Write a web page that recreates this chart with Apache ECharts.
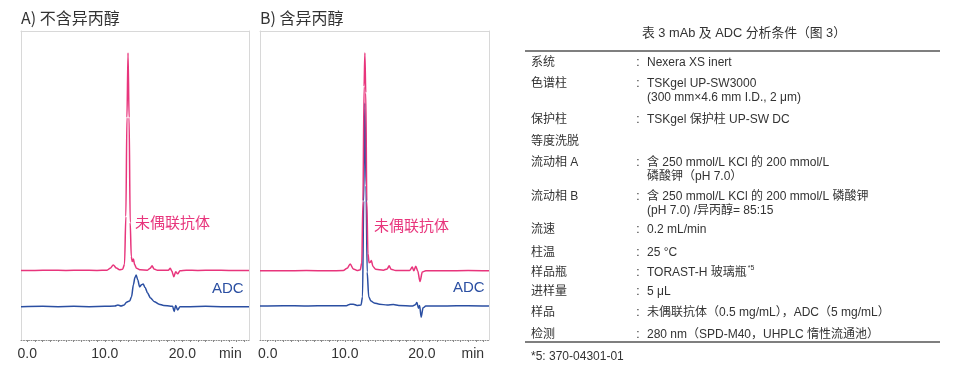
<!DOCTYPE html>
<html>
<head>
<meta charset="utf-8">
<script src="https://cdn.jsdelivr.net/npm/echarts@6/dist/echarts.min.js"></script>
<style>
html,body{margin:0;padding:0;background:#fff;}
#main{width:960px;height:368px;}
</style>
</head>
<body>
<div id="main"></div>
<script>
// ---------- DATA ----------
// Chromatograms [retention time (min), signal (arbitrary, offset as plotted)]
var mabNoIPA = [[-0.8,22.5],[1,22.5],[3,22.6],[5,22.5],[7,22.6],[9,22.5],[10.3,22.6],[10.7,23.2],[11.1,24.3],[11.5,23.3],[11.9,22.7],[12.3,22.9],[12.55,24.5],[12.72,40],[12.86,72],[13.0,92.9],[13.14,72],[13.28,38],[13.42,27],[13.55,25.4],[13.7,26.2],[13.85,24.4],[14.1,23.2],[14.6,22.7],[15.5,22.6],[15.85,23.2],[16.1,24.0],[16.35,23.0],[16.8,22.6],[18.2,22.6],[18.45,23.2],[18.65,22.3],[18.9,20.5],[19.15,22.1],[19.4,21.4],[19.7,22.4],[20.5,22.6],[22,22.5],[24,22.6],[26,22.5],[28.6,22.5]];
var adcNoIPA = [[-0.8,10.8],[2,10.9],[4,10.8],[6,10.9],[8,10.8],[10,10.9],[11.3,11.0],[11.7,11.3],[12.1,11.0],[12.5,11.3],[12.8,12.2],[13.0,12.5],[13.2,12.6],[13.45,14],[13.7,18],[13.9,20.3],[14.05,21.0],[14.25,19.5],[14.5,17.2],[14.75,17.9],[14.95,18.1],[15.2,17.0],[15.5,15.3],[15.9,13.6],[16.4,12.4],[17.0,11.6],[17.6,11.2],[18.5,10.9],[18.75,10.9],[18.95,9.2],[19.15,11.2],[19.4,9.7],[19.7,10.8],[21,10.8],[23,10.9],[25,10.8],[28.6,10.8]];
var mabIPA = [[-1,22.4],[2,22.4],[5,22.5],[8,22.4],[9.8,22.5],[10.3,23.2],[10.7,24.6],[11.1,23.0],[11.6,22.5],[12.0,22.7],[12.2,25],[12.35,45],[12.5,82],[12.6,92.9],[12.72,80],[12.85,45],[13.0,28],[13.15,25],[13.3,25.2],[13.45,25.7],[13.65,23.8],[14.0,22.9],[15.0,22.6],[15.5,23],[15.75,24.0],[16.0,22.9],[16.6,22.5],[18.4,22.5],[18.75,23.6],[18.95,22.4],[19.2,23.9],[19.45,22.4],[19.75,18.9],[20.05,22.0],[20.5,22.4],[23,22.4],[26,22.5],[28.7,22.4]];
var adcIPA = [[-1,11.0],[2,11.1],[5,11.0],[8,11.1],[10.2,11.1],[10.7,11.6],[11.1,11.6],[11.6,11.2],[12.1,11.3],[12.3,14],[12.45,45],[12.6,76.7],[12.75,50],[12.9,22],[13.1,14],[13.4,12.6],[13.8,12.0],[14.5,11.6],[15.5,11.3],[16.3,11.5],[17,11.2],[18.8,11.0],[19.15,11.4],[19.35,12.1],[19.55,10.3],[19.7,11.2],[19.9,7.4],[20.15,10.4],[20.5,11.0],[23,11.0],[26,11.1],[28.7,11.0]];

var xTickLabels = [0, 10, 20];
var xUnit = 'min';
var panelTitles = ['A) 不含异丙醇', 'B) 含异丙醇'];
var seriesNames = ['未偶联抗体', 'ADC'];

var tableTitle = '表 3 mAb 及 ADC 分析条件（图 3）';
var tableLabels = ['系统','色谱柱','保护柱','等度洗脱','流动相 A','流动相 B','流速','柱温','样品瓶','进样量','样品','检测'];
var tableValues = [
  ['Nexera XS inert'],
  ['TSKgel UP-SW3000','(300 mm×4.6 mm I.D., 2 μm)'],
  ['TSKgel 保护柱 UP-SW DC'],
  [],
  ['含 250 mmol/L KCl 的 200 mmol/L','磷酸钾（pH 7.0）'],
  ['含 250 mmol/L KCl 的 200 mmol/L 磷酸钾','(pH 7.0) /异丙醇= 85:15'],
  ['0.2 mL/min'],
  ['25 °C'],
  ['TORAST-H 玻璃瓶'],
  ['5 μL'],
  ['未偶联抗体（0.5 mg/mL），ADC（5 mg/mL）'],
  ['280 nm（SPD-M40，UHPLC 惰性流通池）']
];
var tableNoteMarks = ['', '', '', '', '', '', '', '', '*5', '', '', ''];
var footnote = '*5: 370-04301-01';

// ---------- LAYOUT / STYLE ----------
var PINK = '#E8357C', BLUE = '#2B4FA2', TXT = '#333333', BOX = '#d8d8d8';
var FONT = '"Liberation Sans", "Noto Sans CJK SC", sans-serif';
var CJK = '"Noto Sans CJK SC", sans-serif';
var panels = [
  {left: 21, width: 228, xmin: -0.8, xmax: 28.6, minPos: 26.2},
  {left: 260, width: 229, xmin: -1.0, xmax: 28.7, minPos: 26.6}
];
var gridTop = 31, gridH = 309;

var tickVals = [];
for (var t = 0; t <= 28; t += 1) tickVals.push(t);

var grids = [], xAxes = [], yAxes = [], series = [];
panels.forEach(function (p, i) {
  grids.push({left: p.left, top: gridTop, width: p.width, height: gridH, containLabel: false});
  xAxes.push({
    type: 'value', gridIndex: i, min: p.xmin, max: p.xmax, position: 'bottom',
    splitLine: {show: false},
    axisLine: {show: true, onZero: false, lineStyle: {color: '#8a8a8a', width: 1, type: [1, 1.5]}},
    axisTick: {show: true, customValues: tickVals, length: 2, lineStyle: {color: '#8a8a8a'}},
    axisLabel: {
      show: true, customValues: xTickLabels.concat([p.minPos]), margin: 7,
      fontSize: 14, color: TXT, fontFamily: FONT,
      formatter: function (v) { return Math.abs(v - p.minPos) < 1e-6 ? xUnit : v.toFixed(1); }
    }
  });
  xAxes.push({
    type: 'value', gridIndex: i, min: p.xmin, max: p.xmax, position: 'top',
    splitLine: {show: false}, axisTick: {show: false}, axisLabel: {show: false},
    axisLine: {show: true, onZero: false, lineStyle: {color: BOX, width: 1}}
  });
  yAxes.push({
    type: 'value', gridIndex: i, min: 0, max: 100, position: 'left',
    splitLine: {show: false}, axisTick: {show: false}, axisLabel: {show: false},
    axisLine: {show: true, onZero: false, lineStyle: {color: BOX, width: 1}}
  });
  yAxes.push({
    type: 'value', gridIndex: i, min: 0, max: 100, position: 'right',
    splitLine: {show: false}, axisTick: {show: false}, axisLabel: {show: false},
    axisLine: {show: true, onZero: false, lineStyle: {color: BOX, width: 1}}
  });
});

function line(name, data, color, xi, yi) {
  return {
    name: name, type: 'line', data: data, xAxisIndex: xi, yAxisIndex: yi,
    showSymbol: false, symbol: 'none', smooth: 0.3, smoothMonotone: 'x',
    lineStyle: {color: color, width: 1.5}, itemStyle: {color: color},
    silent: true, animation: false, z: 3
  };
}
series.push(line(seriesNames[1], adcNoIPA, BLUE, 0, 0));
series.push(line(seriesNames[0], mabNoIPA, PINK, 0, 0));
series.push(line(seriesNames[1], adcIPA, BLUE, 2, 2));
series.push(line(seriesNames[0], mabIPA, PINK, 2, 2));

var g = [];
function txt(s, x, y, opt) {
  opt = opt || {};
  g.push({type: 'text', x: x, y: y, silent: true, z: 10,
    style: {text: s, fill: opt.fill || TXT, fontSize: opt.size || 12, fontFamily: opt.family || FONT,
      align: opt.align || 'left', verticalAlign: 'middle'}});
}
txt(panelTitles[0], 21, 18, {size: 16, family: CJK});
txt(panelTitles[1], 260, 18, {size: 16, family: CJK});
txt(seriesNames[0], 135, 222, {size: 15, fill: PINK, family: CJK});
txt(seriesNames[1], 212, 289, {size: 15, fill: BLUE});
txt(seriesNames[0], 374, 225, {size: 15, fill: PINK, family: CJK});
txt(seriesNames[1], 453, 288, {size: 15, fill: BLUE});

// table
txt(tableTitle, 744, 33, {size: 12.8, align: 'center'});
g.push({type: 'line', silent: true, shape: {x1: 525, y1: 51, x2: 940, y2: 51}, style: {stroke: '#555', lineWidth: 1.5}});
g.push({type: 'line', silent: true, shape: {x1: 525, y1: 342, x2: 940, y2: 342}, style: {stroke: '#555', lineWidth: 1.5}});
var rowY = [62.7, 83.3, 120, 141.7, 162.3, 196.7, 230, 252.3, 272.3, 291.7, 312.7, 334.3];
var lineGap = 14.3;
var meas = document.createElement('canvas').getContext('2d');
meas.font = '12px ' + FONT;
tableLabels.forEach(function (lab, i) {
  txt(lab, 531, rowY[i], {size: 12});
  var vals = tableValues[i];
  if (vals.length) {
    txt(':', 638, rowY[i], {size: 12, align: 'center'});
    vals.forEach(function (v, k) {
      txt(v, 647, rowY[i] + k * lineGap, {size: 12});
    });
    if (tableNoteMarks[i]) {
      var w = meas.measureText(vals[0]).width;
      txt(tableNoteMarks[i], 647 + w + 1, rowY[i] - 4, {size: 7});
    }
  }
});
txt(footnote, 531, 357, {size: 12});

var chart = echarts.init(document.getElementById('main'), null, {renderer: 'canvas'});
chart.setOption({
  animation: false,
  backgroundColor: '#fff',
  grid: grids, xAxis: xAxes, yAxis: yAxes, series: series,
  graphic: g
});
</script>
</body>
</html>
